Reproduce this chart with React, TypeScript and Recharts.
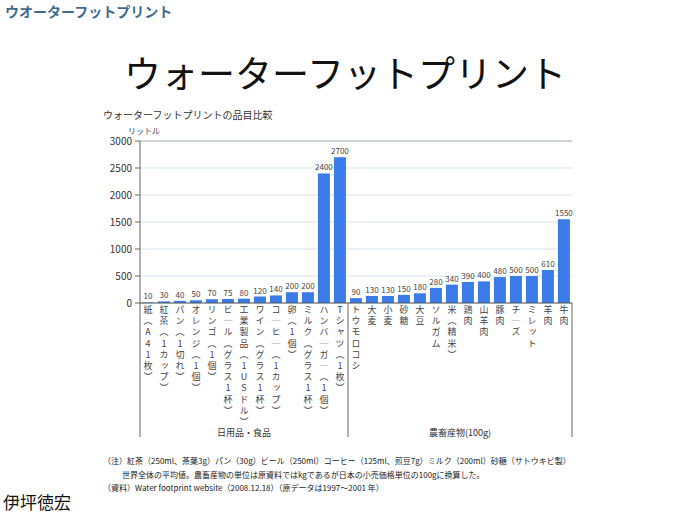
import { Bar, BarChart, CartesianGrid, LabelList, ReferenceLine, XAxis, YAxis } from "recharts";

// 日用品・食品
const dailyGoods = [
  "紙（A41枚）", "紅茶（1カップ）", "パン（1切れ）", "オレンジ（1個）", "リンゴ（1個）",
  "ビール（グラス1杯）", "工業製品（1USドル）", "ワイン（グラス1杯）", "コーヒー（1カップ）",
  "卵（1個）", "ミルク（グラス1杯）", "ハンバーガー（1個）", "Tシャツ（1枚）",
];
const dailyValues = [10, 30, 40, 50, 70, 75, 80, 120, 140, 200, 200, 2400, 2700];

// 農畜産物（100g）
const farmGoods = [
  "トウモロコシ", "大麦", "小麦", "砂糖", "大豆", "ソルガム", "米（精米）",
  "鶏肉", "山羊肉", "豚肉", "チーズ", "ミレット", "羊肉", "牛肉",
];
const farmValues = [90, 130, 130, 150, 180, 280, 340, 390, 400, 480, 500, 500, 610, 1550];

const groupNames = ["日用品・食品", "農畜産物(100g)"];
const yTicks = [0, 500, 1000, 1500, 2000, 2500, 3000];

const data = [
  ...dailyGoods.map((name, i) => ({ name, value: dailyValues[i] })),
  ...farmGoods.map((name, i) => ({ name, value: farmValues[i] })),
];
const groups = [
  { name: groupNames[0], start: 0, end: dailyGoods.length - 1 },
  { name: groupNames[1], start: dailyGoods.length, end: data.length - 1 },
];

const JP = '"Noto Sans CJK JP", "Noto Sans", sans-serif';
const AXIS_H = 134;
const VERT: Record<string, string> = { "（": "︵", "）": "︶", "ー": "｜" };
const vertStyle = { writingMode: "vertical-rl", textOrientation: "upright" } as any;

function VerticalTick(props: any) {
  const { x, y, payload, index } = props;
  const half = payload?.offset || 8;
  const chars = Array.from(String(payload.value)).map((c) => VERT[c] ?? c);
  const lines: number[] = [];
  for (const g of groups) {
    if (index === g.start) lines.push(x - half);
    if (index === g.end && g.end === data.length - 1) lines.push(x + half);
  }
  const label = groups.find((g) => Math.floor((g.start + g.end) / 2) === index);
  return (
    <g>
      {chars.map((c, k) => (
        <text key={k} x={x} y={y + 2 + k * 11.2} fontSize={9} fill="#444" fontFamily={JP}
          style={vertStyle}>{c}</text>
      ))}
      {lines.map((lx, k) => (
        <line key={"l" + k} x1={lx} x2={lx} y1={y} y2={y + AXIS_H} stroke="#666" />
      ))}
      {label && (
        <text x={x + ((label.start + label.end) / 2 - index) * 2 * half} y={y + 133}
          textAnchor="middle" fontSize={9} fill="#333" fontFamily={JP}>{label.name}</text>
      )}
    </g>
  );
}

export default function App() {
  return (
    <div style={{ position: "absolute", left: 0, top: 0, width: 690, height: 518, background: "#fff", fontFamily: JP }}>
      <div style={{ position: "absolute", left: 5, top: 1, fontSize: 14, fontWeight: 700, color: "#3d6b93" }}>
        ウオーターフットプリント
      </div>
      <div style={{ position: "absolute", left: 0, width: 690, top: 45, textAlign: "center", fontSize: 37, color: "#111" }}>
        ウォーターフットプリント
      </div>
      <div style={{ position: "absolute", left: 103, top: 107, fontSize: 10, color: "#333" }}>
        ウォーターフットプリントの品目比較
      </div>
      <div style={{ position: "absolute", left: 128, top: 125, fontSize: 8, color: "#444" }}>リットル</div>

      <BarChart width={690} height={518} data={data} barCategoryGap="12%"
        margin={{ top: 141, right: 118, left: 100, bottom: 81 }}>
        <CartesianGrid vertical={false} stroke="#d6e6ef" />
        <XAxis dataKey="name" interval={0} height={AXIS_H} tickSize={0} tickMargin={0}
          tickLine={false} axisLine={{ stroke: "#555" }} tick={<VerticalTick />} />
        <YAxis domain={[0, 3000]} ticks={yTicks} width={40} tickSize={5} tickMargin={3}
          tick={{ fontSize: 10, fill: "#333", fontFamily: JP }} axisLine={{ stroke: "#666" }}
          tickLine={{ stroke: "#666" }} />
        <YAxis yAxisId="right" orientation="right" width={0} tick={false} tickLine={false}
          axisLine={{ stroke: "#b5b5b5" }} />
        <ReferenceLine y={3000} stroke="#b5b5b5" />
        <Bar dataKey="value" fill="#3a7be8" isAnimationActive={false}>
          <LabelList dataKey="value" position="top" offset={3} fontSize={8} fill="#444" fontFamily={JP} />
        </Bar>
      </BarChart>

      <div style={{ position: "absolute", left: 103, top: 454, fontSize: 8, color: "#222", lineHeight: "13.5px", whiteSpace: "pre" }}>
        <div>（注）紅茶（250ml、茶葉3g）パン（30g）ビール（250ml）コーヒー（125ml、煎豆7g）ミルク（200ml）砂糖（サトウキビ製）</div>
        <div style={{ paddingLeft: 19 }}>世界全体の平均値。農畜産物の単位は原資料ではkgであるが日本の小売価格単位の100gに換算した。</div>
        <div>（資料）Water footprint website（2008.12.18）（原データは1997～2001 年）</div>
      </div>
      <div style={{ position: "absolute", left: 3, top: 489, fontSize: 17, color: "#111" }}>伊坪徳宏</div>
    </div>
  );
}
